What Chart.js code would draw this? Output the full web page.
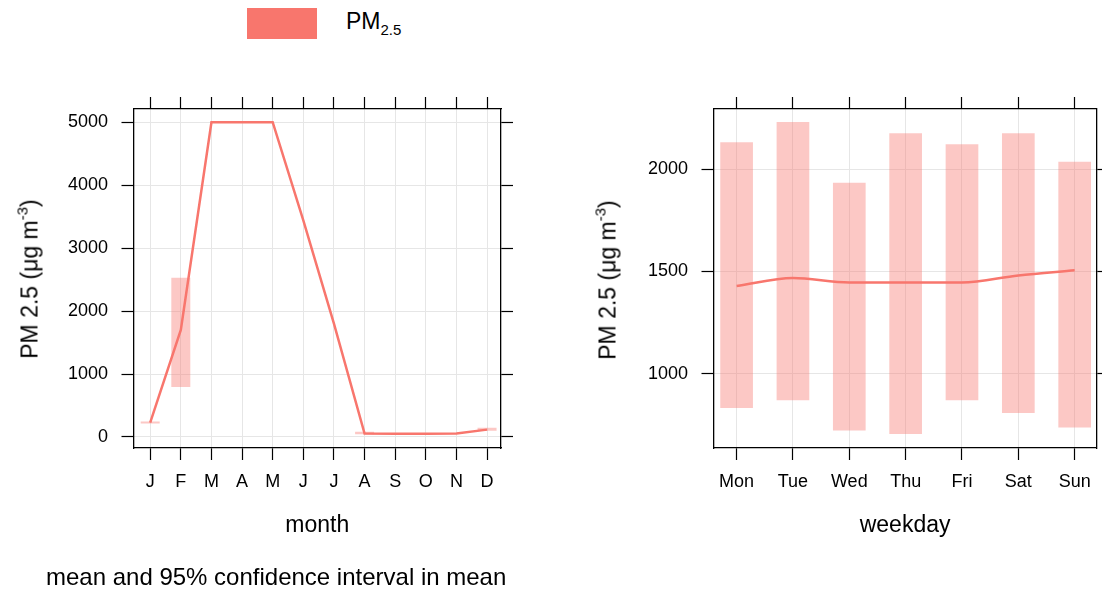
<!DOCTYPE html>
<html>
<head>
<meta charset="utf-8">
<script src="https://cdn.jsdelivr.net/npm/chart.js@4.4.0/dist/chart.umd.min.js"></script>
<style>
  body { margin: 0; background: #fff; width: 1102px; height: 589px; position: relative; overflow: hidden;
         font-family: "Liberation Sans", Arial, sans-serif; color: #000; }
  canvas { position: absolute; top: 0; }
  #monthChart { left: 0; }
  #dayChart { left: 560px; }
  .ytitle { position: absolute; white-space: nowrap; font-size: 23px; line-height: 1;
            transform: translate(-50%, -50%) rotate(-90deg); }
  .ytitle sup { font-size: 15px; vertical-align: 10px; }
  #legendBox { position: absolute; left: 247px; top: 8px; width: 70px; height: 31px; background: #F8766D; }
  #legendText { position: absolute; left: 346px; top: 10px; font-size: 23px; line-height: 1; }
  #legendText sub { font-size: 15px; vertical-align: -6px; }
  #caption { position: absolute; left: 46px; top: 565px; font-size: 24px; line-height: 1; white-space: nowrap; }
</style>
</head>
<body>
<div id="legendBox"></div>
<div id="legendText">PM<sub>2.5</sub></div>
<canvas id="monthChart" width="560" height="589"></canvas>
<canvas id="dayChart" width="542" height="589"></canvas>
<div class="ytitle" style="left:28px; top:279px;">PM 2.5 (μg m<sup>-3</sup>)</div>
<div class="ytitle" style="left:606px; top:280px;">PM 2.5 (μg m<sup>-3</sup>)</div>
<div id="caption">mean and 95% confidence interval in mean</div>
<script>
// monthly panel
const months = ['J', 'F', 'M', 'A', 'M', 'J', 'J', 'A', 'S', 'O', 'N', 'D'];
const pmMonth = [229, 1700, 5000, 5000, 5000, 3440, 1800, 54, 50, 50, 54, 117];
const pmMonthLow = [215, 795, 5000, 5000, 5000, 3440, 1800, 45, 50, 50, 54, 100];
const pmMonthHigh = [245, 2530, 5000, 5000, 5000, 3440, 1800, 85, 50, 50, 54, 145];
const monthYTicks = [0, 1000, 2000, 3000, 4000, 5000];

// weekday panel
const weekdays = ['Mon', 'Tue', 'Wed', 'Thu', 'Fri', 'Sat', 'Sun'];
const pmDay = [1428, 1467, 1445, 1445, 1445, 1480, 1505];
const pmDayLow = [832, 869, 721, 704, 869, 807, 736];
const pmDayHigh = [2131, 2231, 1933, 2176, 2121, 2176, 2036];
const dayYTicks = [1000, 1500, 2000];

const lineCol = '#F8766D';
const bandCol = 'rgba(248, 118, 109, 0.4)';
const gridCol = '#e6e6e6';

Chart.defaults.font.family = '"Liberation Sans", Arial, sans-serif';
Chart.defaults.color = '#000';

// one lattice-style panel: box with ticks on all four sides
function makePanel(id, labels, mean, low, high, yTicks, g) {
  const frame = (extra) => Object.assign({
    grid: { color: gridCol, lineWidth: 1, tickColor: '#000', tickLength: 12, tickWidth: 1.2, offset: false },
    border: { display: true, color: '#000', width: 1.3 }
  }, extra);
  const xTicks = s => { s.ticks = labels.map((l, i) => ({ value: i })); };
  const yTickSet = s => { s.ticks = yTicks.map(v => ({ value: v })); };

  return new Chart(document.getElementById(id), {
    type: 'line',
    data: {
      datasets: [
        {
          type: 'line',
          data: mean.map((v, i) => ({ x: i, y: v })),
          borderColor: lineCol,
          borderWidth: 2.5,
          pointRadius: 0,
          cubicInterpolationMode: g.smooth ? 'monotone' : 'default',
          order: 0
        },
        {
          type: 'bar',
          data: low.map((v, i) => ({ x: i, y: [v, high[i]] })),
          backgroundColor: bandCol,
          borderWidth: 0,
          barPercentage: g.barPct,
          categoryPercentage: 1,
          order: 1
        }
      ]
    },
    options: {
      responsive: false,
      animation: false,
      devicePixelRatio: 1,
      layout: { padding: { left: 0, right: 0, top: 0, bottom: g.padBottom } },
      plugins: { legend: { display: false }, tooltip: { enabled: false } },
      scales: {
        x: frame({
          type: 'linear', position: 'bottom', min: g.xMin, max: g.xMax, offset: false,
          afterBuildTicks: xTicks,
          ticks: { font: { size: 18 }, padding: 11, maxRotation: 0, autoSkip: false,
                   callback: (v, i) => labels[i] },
          title: { display: true, text: g.xTitle, font: { size: 23 }, padding: { top: 0, bottom: 4 } },
          afterFit: s => { s.height = g.xHeight; }
        }),
        x2: frame({
          type: 'linear', axis: 'x', position: 'top', min: g.xMin, max: g.xMax, offset: false,
          afterBuildTicks: xTicks,
          ticks: { display: false },
          afterFit: s => { s.height = g.top; }
        }),
        y: frame({
          type: 'linear', position: 'left', min: g.yMin, max: g.yMax,
          afterBuildTicks: yTickSet,
          ticks: { font: { size: 18 }, padding: 13.5, callback: v => String(v) },
          afterFit: s => { s.width = g.left; }
        }),
        y2: frame({
          type: 'linear', axis: 'y', position: 'right', min: g.yMin, max: g.yMax,
          afterBuildTicks: yTickSet,
          ticks: { display: false },
          afterFit: s => { s.width = g.right; }
        })
      }
    }
  });
}

makePanel('monthChart', months, pmMonth, pmMonthLow, pmMonthHigh, monthYTicks, {
  xMin: -0.545, xMax: 11.455, yMin: -175, yMax: 5210,
  left: 133.5, right: 59, top: 109, xHeight: 95, padBottom: 46,
  barPct: 0.62, smooth: false, xTitle: 'month'
});

makePanel('dayChart', weekdays, pmDay, pmDayLow, pmDayHigh, dayYTicks, {
  xMin: -0.41, xMax: 6.39, yMin: 636, yMax: 2294,
  left: 153.5, right: 4, top: 109, xHeight: 95, padBottom: 46,
  barPct: 0.58, smooth: true, xTitle: 'weekday'
});
</script>
</body>
</html>
